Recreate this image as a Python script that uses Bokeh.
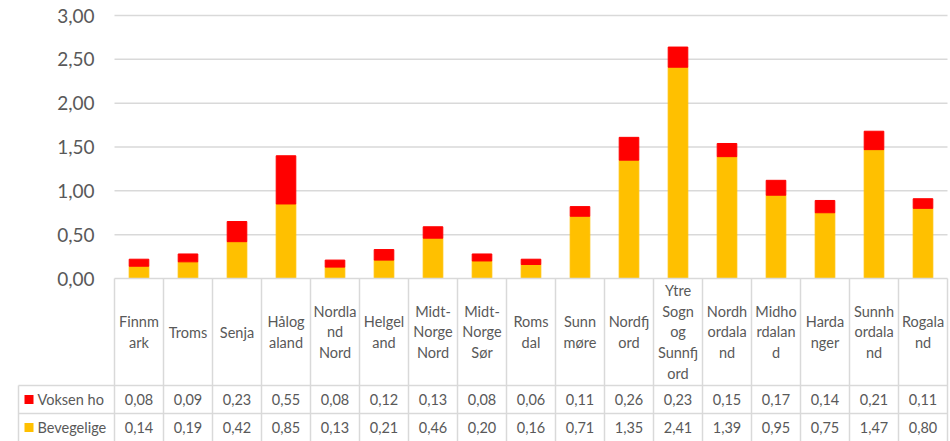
from bokeh.plotting import figure
from bokeh.models import Range1d, ColumnDataSource
from bokeh.core.properties import value
from bokeh.embed import file_html
from bokeh.resources import INLINE

# ---------------- data ----------------
categories = ["Finnmark", "Troms", "Senja", "Hålogaland", "Nordland Nord", "Helgeland",
              "Midt-Norge Nord", "Midt-Norge Sør", "Romsdal", "Sunnmøre", "Nordfjord",
              "Ytre Sogn og Sunnfjord", "Nordhordaland", "Midhordaland", "Hardanger",
              "Sunnhordaland", "Rogaland"]
category_labels = ["Finnm\nark", "Troms", "Senja", "Hålog\naland", "Nordla\nnd\nNord", "Helgel\nand",
                   "Midt-\nNorge\nNord", "Midt-\nNorge\nSør", "Roms\ndal", "Sunn\nmøre", "Nordfj\nord",
                   "Ytre\nSogn\nog\nSunnfj\nord", "Nordh\nordala\nnd", "Midho\nrdalan\nd", "Harda\nnger",
                   "Sunnh\nordala\nnd", "Rogala\nnd"]
voksen_ho = [0.08, 0.09, 0.23, 0.55, 0.08, 0.12, 0.13, 0.08, 0.06, 0.11, 0.26, 0.23, 0.15, 0.17, 0.14, 0.21, 0.11]
bevegelige = [0.14, 0.19, 0.42, 0.85, 0.13, 0.21, 0.46, 0.20, 0.16, 0.71, 1.35, 2.41, 1.39, 0.95, 0.75, 1.47, 0.80]
series_names = ["Voksen ho", "Bevegelige"]
y_ticks = [0.0, 0.5, 1.0, 1.5, 2.0, 2.5, 3.0]

# ---------------- styling / layout ----------------
RED = "#FF0000"
YELLOW = "#FFC000"
GRID = "#D9D9D9"
TEXT = "#595959"
FONT = "Lato"

W, H = 950, 441
PL = 114          # plot-area left (px)
PR = 947          # plot-area right (px)
L0 = 18           # table legend-column left (px)
TOP3 = 15         # px of value 3.0
ZERO = 278        # px of value 0
HDR_BOTTOM = 385  # px
ROW1_BOTTOM = 413 # px
ROW2_BOTTOM = 441

n = len(categories)
CW = (PR - PL) / n
u = 3.0 / (ZERO - TOP3)


def xd(px):
    return -0.5 + (px - PL) / CW


def yd(py):
    return 3.0 + TOP3 * u - py * u


p = figure(width=W, height=H, output_backend="svg", toolbar_location=None,
           x_axis_location=None, y_axis_location=None,
           x_range=Range1d(xd(0), xd(W)), y_range=Range1d(yd(H), yd(0)),
           min_border=0, min_border_left=0, min_border_right=0,
           min_border_top=0, min_border_bottom=0)
p.outline_line_color = None
p.grid.visible = False
p.background_fill_color = "white"
p.border_fill_color = "white"

xs = list(range(n))
x_lo = -0.5
x_hi = n - 0.5

# gridlines (positive ticks only; zero line is table top border)
grid_y = [t for t in y_ticks if t > 0]
p.segment(x0=[x_lo] * len(grid_y), x1=[x_hi] * len(grid_y), y0=grid_y, y1=grid_y,
          line_color=GRID, line_width=1.5)

# y tick labels
tick_text = [f"{t:.2f}".replace(".", ",") for t in y_ticks]
p.text(x=[xd(94)] * len(y_ticks), y=y_ticks, text=tick_text, text_align="right",
       text_baseline="middle", text_font=value(FONT), text_font_size="19px", text_color=TEXT)

# stacked bars
src = ColumnDataSource(dict(x=xs, bev=bevegelige, vok=voksen_ho))
p.vbar_stack(["bev", "vok"], x="x", width=0.4, source=src, color=[YELLOW, RED])

# ---------------- data table ----------------
y_hdr_bot = yd(HDR_BOTTOM)
y_r1_bot = yd(ROW1_BOTTOM)
y_r2_bot = yd(ROW2_BOTTOM)
x_leg = xd(L0)

# horizontal borders
p.segment(x0=[x_lo, x_leg, x_leg], x1=[x_hi, x_hi, x_hi],
          y0=[0, y_hdr_bot, y_r1_bot], y1=[0, y_hdr_bot, y_r1_bot],
          line_color=GRID, line_width=1.5)
# vertical borders between categories
vx = [i - 0.5 for i in range(n + 1)]
p.segment(x0=vx, x1=vx, y0=[0] * len(vx), y1=[y_r2_bot] * len(vx),
          line_color=GRID, line_width=1.5)
# legend column left border
p.segment(x0=[x_leg], x1=[x_leg], y0=[y_hdr_bot], y1=[y_r2_bot],
          line_color=GRID, line_width=1.5)

# header labels
p.text(x=xs, y=[y_hdr_bot / 2] * n, text=category_labels, text_align="center",
       text_baseline="middle", text_font=value(FONT), text_font_size="14.5px",
       text_line_height=1.22, text_color=TEXT)

row_y = [(y_hdr_bot + y_r1_bot) / 2, (y_r1_bot + y_r2_bot) / 2]
row_vals = [voksen_ho, bevegelige]
row_colors = [RED, YELLOW]
for yy, vals in zip(row_y, row_vals):
    p.text(x=xs, y=[yy] * n, text=[f"{v:.2f}".replace(".", ",") for v in vals],
           text_align="center", text_baseline="middle", text_font=value(FONT),
           text_font_size="14.5px", text_color=TEXT)

# legend keys and names
p.scatter(x=[xd(28.5)] * 2, y=row_y, marker="square", size=9, fill_color=row_colors,
          line_color=None)
p.text(x=[xd(37)] * 2, y=row_y, text=series_names, text_align="left",
       text_baseline="middle", text_font=value(FONT), text_font_size="14.5px", text_color=TEXT)

open("out.html", "w").write(file_html(p, INLINE))
